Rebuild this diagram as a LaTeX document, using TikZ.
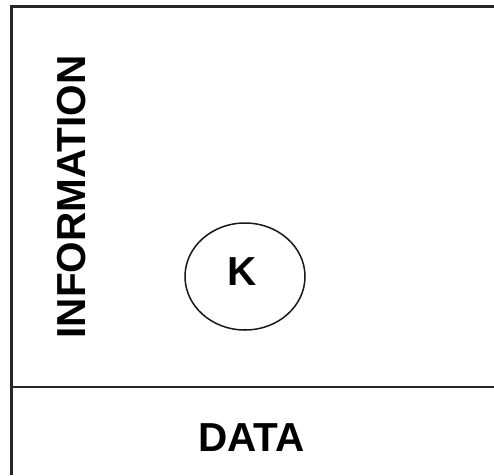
\documentclass[tikz,border=0pt]{standalone}
\usepackage{fontspec}
\setmainfont{Liberation Sans}
\newfontfamily\lblfont{Liberation Sans Bold}
\usetikzlibrary{shapes.geometric}
\begin{document}
\begin{tikzpicture}[x=1pt,y=1pt,
  frameline/.style={line width=2.2pt, draw=black!85},
  lbl/.style={font=\fontsize{40.5}{40.5}\lblfont, inner sep=0pt},
  knode/.style={ellipse, draw=black!90, line width=1.5pt, minimum width=120pt, minimum height=107pt, inner sep=0pt}]
\useasboundingbox (0,0) rectangle (494,475);
\fill[white] (0,0) rectangle (494,475);
\coordinate (tl) at (11.5,468.5);
\coordinate (tr) at (494,468.5);
\coordinate (bl) at (11.5,0);
\coordinate (dl) at (11.5,88.3);
\coordinate (dr) at (494,88.3);
\draw[frameline] (bl) -- (tl) -- (tr);
\draw[frameline] (dl) -- (dr);
\node[lbl, rotate=90] (info) at (71.5,278) {INFORMATION};
\node[lbl] (data) at (251.5,37.5) {DATA};
\node[knode] (k) at (245,198.5) {};
\node[lbl] (kt) at (242,203) {K};
\end{tikzpicture}
\end{document}
